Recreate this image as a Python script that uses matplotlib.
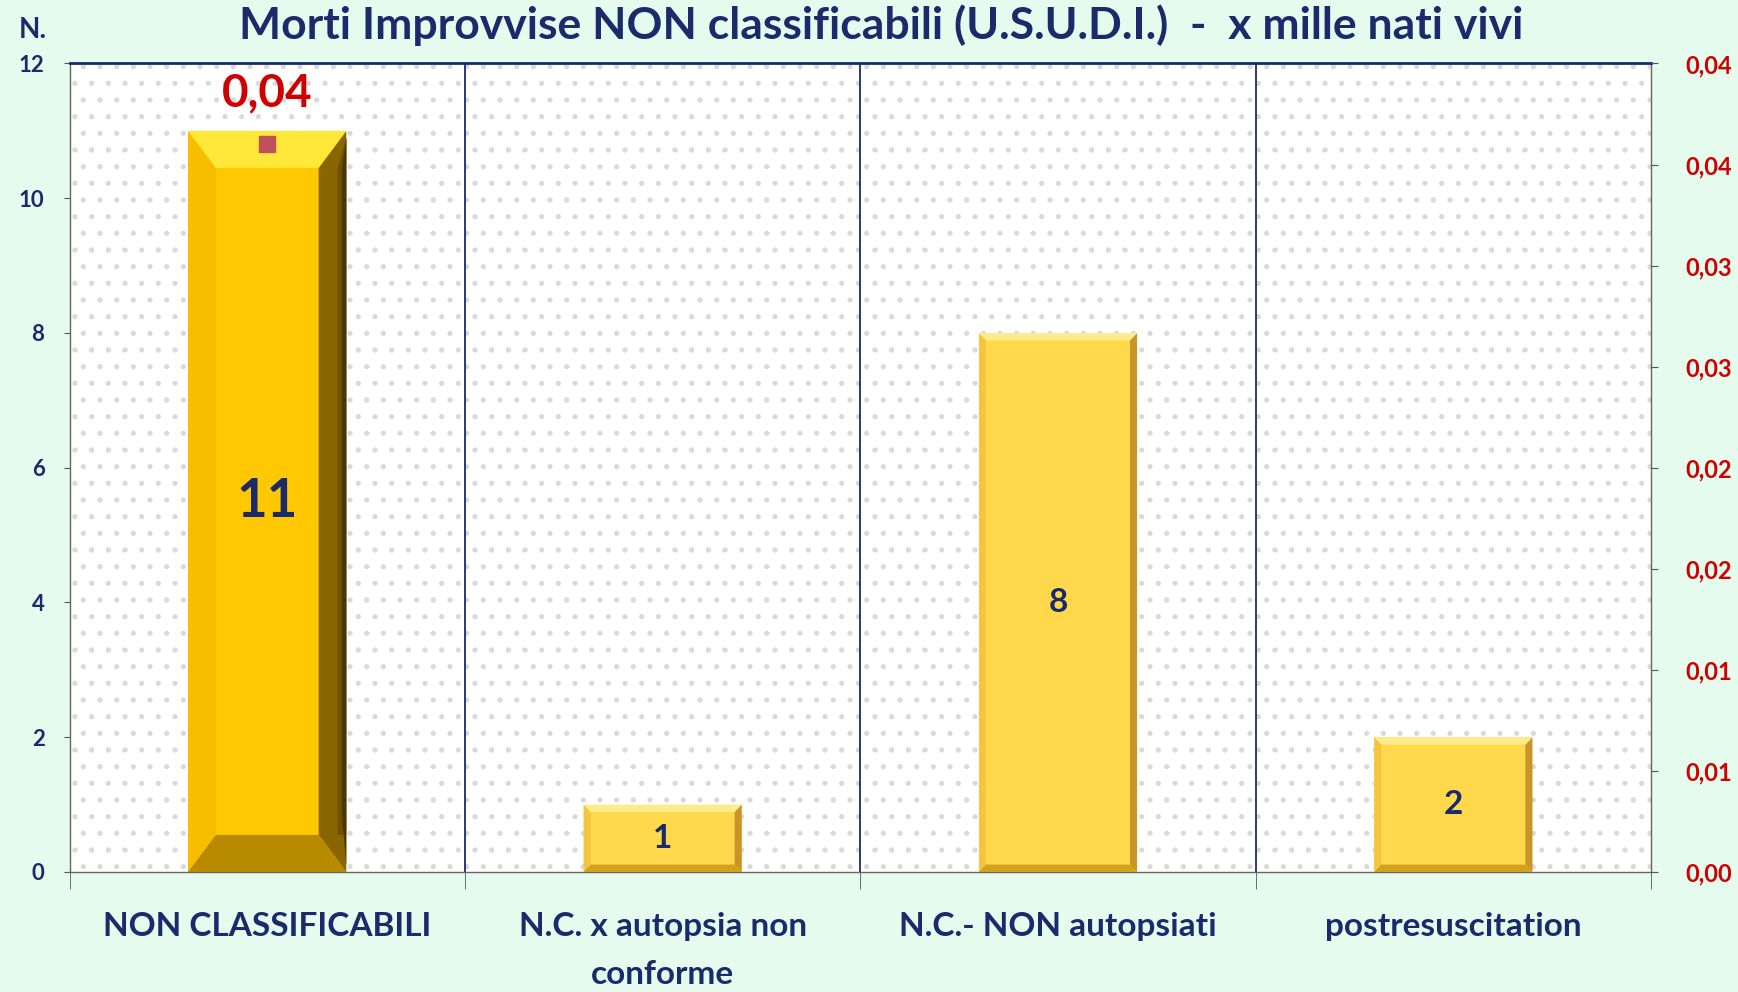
import matplotlib
matplotlib.use("Agg")
import matplotlib.pyplot as plt
from matplotlib.patches import Rectangle, Polygon
from matplotlib.ticker import FixedLocator, FuncFormatter
import numpy as np

# dati
categorie = ["NON CLASSIFICABILI", "N.C. x autopsia non\nconforme",
             "N.C.- NON autopsiati", "postresuscitation"]
numeri = [11, 1, 8, 2]
tasso_idx = 0          # solo la prima categoria ha il tasso
tasso_val = 0.036      # x mille nati vivi (etichetta 0,04)
tasso_etichetta = "0,04"

navy = "#1B2A6B"
rosso = "#D00000"
sfondo = "#E4FBEE"

plt.rcParams['font.family'] = ['Lato', 'DejaVu Sans']
plt.rcParams['font.weight'] = 'bold'
plt.rcParams['hatch.linewidth'] = 1.3

fig = plt.figure(figsize=(17.38, 9.92), dpi=100, facecolor=sfondo)
ax = fig.add_axes([0.040, 0.121, 0.910, 0.815])
ax.set_facecolor("white")

# sfondo a puntini
ax.add_patch(Rectangle((0, 0), 1, 1, transform=ax.transAxes, facecolor="white",
                       edgecolor="#D9D9D9", hatch=".", lw=0, zorder=0))

x = np.arange(len(categorie))
larg = 0.40


def bevel(ax, b, dx, dy, c_top, c_bot, c_left, c_right):
    x0, y0 = b.get_x(), b.get_y()
    x1, y1 = x0 + b.get_width(), y0 + b.get_height()
    pts = {
        "top": [(x0, y1), (x1, y1), (x1 - dx, y1 - dy), (x0 + dx, y1 - dy)],
        "bot": [(x0, y0), (x1, y0), (x1 - dx, y0 + dy), (x0 + dx, y0 + dy)],
        "left": [(x0, y0), (x0, y1), (x0 + dx, y1 - dy), (x0 + dx, y0 + dy)],
        "right": [(x1, y0), (x1, y1), (x1 - dx, y1 - dy), (x1 - dx, y0 + dy)],
    }
    for k, c in (("left", c_left), ("right", c_right), ("top", c_top), ("bot", c_bot)):
        ax.add_patch(Polygon(pts[k], closed=True, facecolor=c, edgecolor="none", zorder=3))


colori = ["#FFC800" if i == tasso_idx else "#FFD84C" for i in range(len(numeri))]
barre = ax.bar(x, numeri, width=larg, color=colori, edgecolor="none", zorder=2)

for i, b in enumerate(barre):
    if i == tasso_idx:
        bevel(ax, b, 0.07, 0.55, "#FFE83A", "#B88A00", "#F7BE00", "#8A6600")
        # sfumatura scura sul lato destro
        x1 = b.get_x() + b.get_width()
        for k, c in enumerate(["#6E5200", "#4A3600"]):
            w = 0.022 - 0.011 * k
            ax.add_patch(Polygon([(x1 - w, 0.55 + 0.3 * k), (x1, 0.55 * (1 - k) + 0.1 * k),
                                  (x1, b.get_height() - 0.1), (x1 - w, b.get_height() - 0.55)],
                                 closed=True, facecolor=c, edgecolor="none", zorder=3))
    else:
        bevel(ax, b, 0.018, 0.11, "#FFEA8C", "#D4A11E", "#F4C640", "#C9952A")

# etichette valori
for i, b in enumerate(barre):
    fs = 38 if i == tasso_idx else 24
    ax.text(b.get_x() + b.get_width() / 2, numeri[i] / 2, str(numeri[i]),
            ha="center", va="center", color=navy, fontsize=fs, fontweight="bold", zorder=5)

# separatori verticali
for s in np.arange(0.5, len(categorie) - 0.5, 1):
    ax.axvline(s, color=navy, lw=1.3, zorder=1)

ax.set_xlim(-0.5, len(categorie) - 0.5)
ax.set_ylim(0, 12)
ax.set_yticks(np.arange(0, 13, 2))
ax.set_xticks(x)
ax.set_xticklabels(categorie, fontsize=24, color=navy, fontweight="bold", linespacing=1.8)
ax.tick_params(axis="x", which="major", length=0, pad=29)
ax.xaxis.set_minor_locator(FixedLocator(np.arange(-0.5, len(categorie), 1)))
ax.tick_params(axis="x", which="minor", length=12, color="#555555", direction="out")
ax.tick_params(axis="y", labelsize=16, labelcolor=navy, length=4, color="#555555", pad=14)
for lab in ax.get_yticklabels():
    lab.set_fontweight("bold")

for side in ("left", "bottom", "right"):
    ax.spines[side].set_color("#666666")
    ax.spines[side].set_linewidth(1.0)
ax.spines["top"].set_color(navy)
ax.spines["top"].set_linewidth(2.0)

# asse secondario (tasso)
ax2 = ax.twinx()
ax2.set_ylim(0, 0.04)
ax2.set_yticks(np.linspace(0, 0.04, 9))
ax2.yaxis.set_major_formatter(FuncFormatter(
    lambda v, p: f"{round(v + 1e-9, 2):.2f}".replace(".", ",")))
ax2.tick_params(axis="y", labelsize=17, labelcolor=rosso, length=5, color="#555555", pad=20)
for lab in ax2.get_yticklabels():
    lab.set_fontweight("bold")
for sp in ax2.spines.values():
    sp.set_visible(False)

ax2.plot([x[tasso_idx]], [tasso_val], marker="s", markersize=12, color="#C0505A",
         linestyle="none", zorder=6)
ax2.annotate(tasso_etichetta, (x[tasso_idx], tasso_val), xytext=(0, 37),
             textcoords="offset points", ha="center", va="center",
             color=rosso, fontsize=33, fontweight="bold")

fig.text(0.507, 0.975, "Morti Improvvise NON classificabili (U.S.U.D.I.)  -  x mille nati vivi",
         ha="center", va="center", color=navy, fontsize=32, fontweight="bold")
fig.text(0.019, 0.970, "N.", ha="center", va="center", color=navy, fontsize=20, fontweight="bold")

fig.savefig("out.png", dpi=100, facecolor=sfondo)
